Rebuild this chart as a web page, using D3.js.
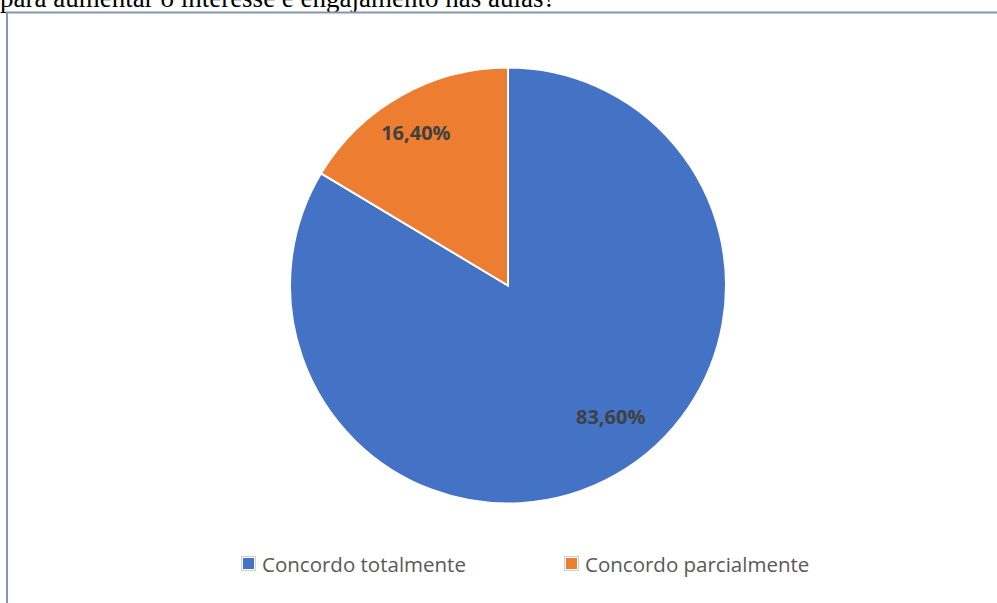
<!DOCTYPE html>
<html>
<head>
<meta charset="utf-8">
<script src="https://cdn.jsdelivr.net/npm/d3@7"></script>
<style>
  html, body { margin: 0; padding: 0; background: #ffffff; }
  svg { display: block; }
</style>
</head>
<body>
<div id="chart"></div>
<script>
// Survey answers and their shares (percent)
const categories = ["Concordo totalmente", "Concordo parcialmente"];
const values = [83.6, 16.4];
const valueLabels = ["83,60%", "16,40%"];
const colors = ["#4472C4", "#ED7D31"];
const questionTail = "para aumentar o interesse e engajamento nas aulas?";

const W = 997, H = 603;
const cx = 508, cy = 285.5, R = 218;

// Placement of each value label inside its slice (angle shift in degrees, radius fraction)
const labelPlacement = [
  { shift: -8.5, frac: 0.765 },
  { shift: -1.5, frac: 0.82 }
];

const svg = d3.select("#chart").append("svg")
  .attr("width", W).attr("height", H);

// Tail of the question text above the chart frame (page text continues from above)
svg.append("text")
  .attr("x", 0).attr("y", 6.5)
  .attr("font-family", "'Liberation Serif', 'Times New Roman', serif")
  .attr("font-size", 27)
  .attr("fill", "#000")
  .text(questionTail);

// Chart frame
svg.append("rect")
  .attr("x", 7).attr("y", 12.5)
  .attr("width", W + 10).attr("height", H + 10)
  .attr("fill", "#fff")
  .attr("stroke", "#8497B0")
  .attr("stroke-width", 2);

const pie = d3.pie().sort(null).value(d => d)(values);
const arc = d3.arc().innerRadius(0).outerRadius(R);

const g = svg.append("g").attr("transform", `translate(${cx},${cy})`);

g.selectAll("path.slice")
  .data(pie)
  .join("path")
  .attr("class", "slice")
  .attr("d", arc)
  .attr("fill", (d, i) => colors[i])
  .attr("stroke", "#ffffff")
  .attr("stroke-width", 2);

// Value labels
g.selectAll("text.val")
  .data(pie)
  .join("text")
  .attr("class", "val")
  .each(function (d, i) {
    const p = labelPlacement[i];
    const a = (d.startAngle + d.endAngle) / 2 + p.shift * Math.PI / 180;
    const r = R * p.frac;
    d3.select(this)
      .attr("x", r * Math.sin(a))
      .attr("y", -r * Math.cos(a));
  })
  .attr("text-anchor", "middle")
  .attr("dominant-baseline", "central")
  .attr("font-family", "'Open Sans', sans-serif")
  .attr("font-weight", "bold")
  .attr("font-size", 20)
  .attr("fill", "#404040")
  .text((d, i) => valueLabels[i]);

// Legend
const legendX = d3.scalePoint().domain(categories).range([243, 566]);
const legend = svg.append("g");
const items = legend.selectAll("g.item")
  .data(categories)
  .join("g")
  .attr("class", "item")
  .attr("transform", d => `translate(${legendX(d)},564)`);

items.append("rect")
  .attr("x", -1.5).attr("y", -7.5)
  .attr("width", 14).attr("height", 14)
  .attr("fill", "#fff")
  .attr("stroke", "#d0d0d0")
  .attr("stroke-width", 1);

items.append("rect")
  .attr("x", 0).attr("y", -6)
  .attr("width", 11).attr("height", 11)
  .attr("fill", (d, i) => colors[i]);

items.append("text")
  .attr("x", 19).attr("y", 0)
  .attr("dominant-baseline", "central")
  .attr("font-family", "'Open Sans', sans-serif")
  .attr("font-size", 20.5)
  .attr("fill", "#595959")
  .text(d => d);
</script>
</body>
</html>
